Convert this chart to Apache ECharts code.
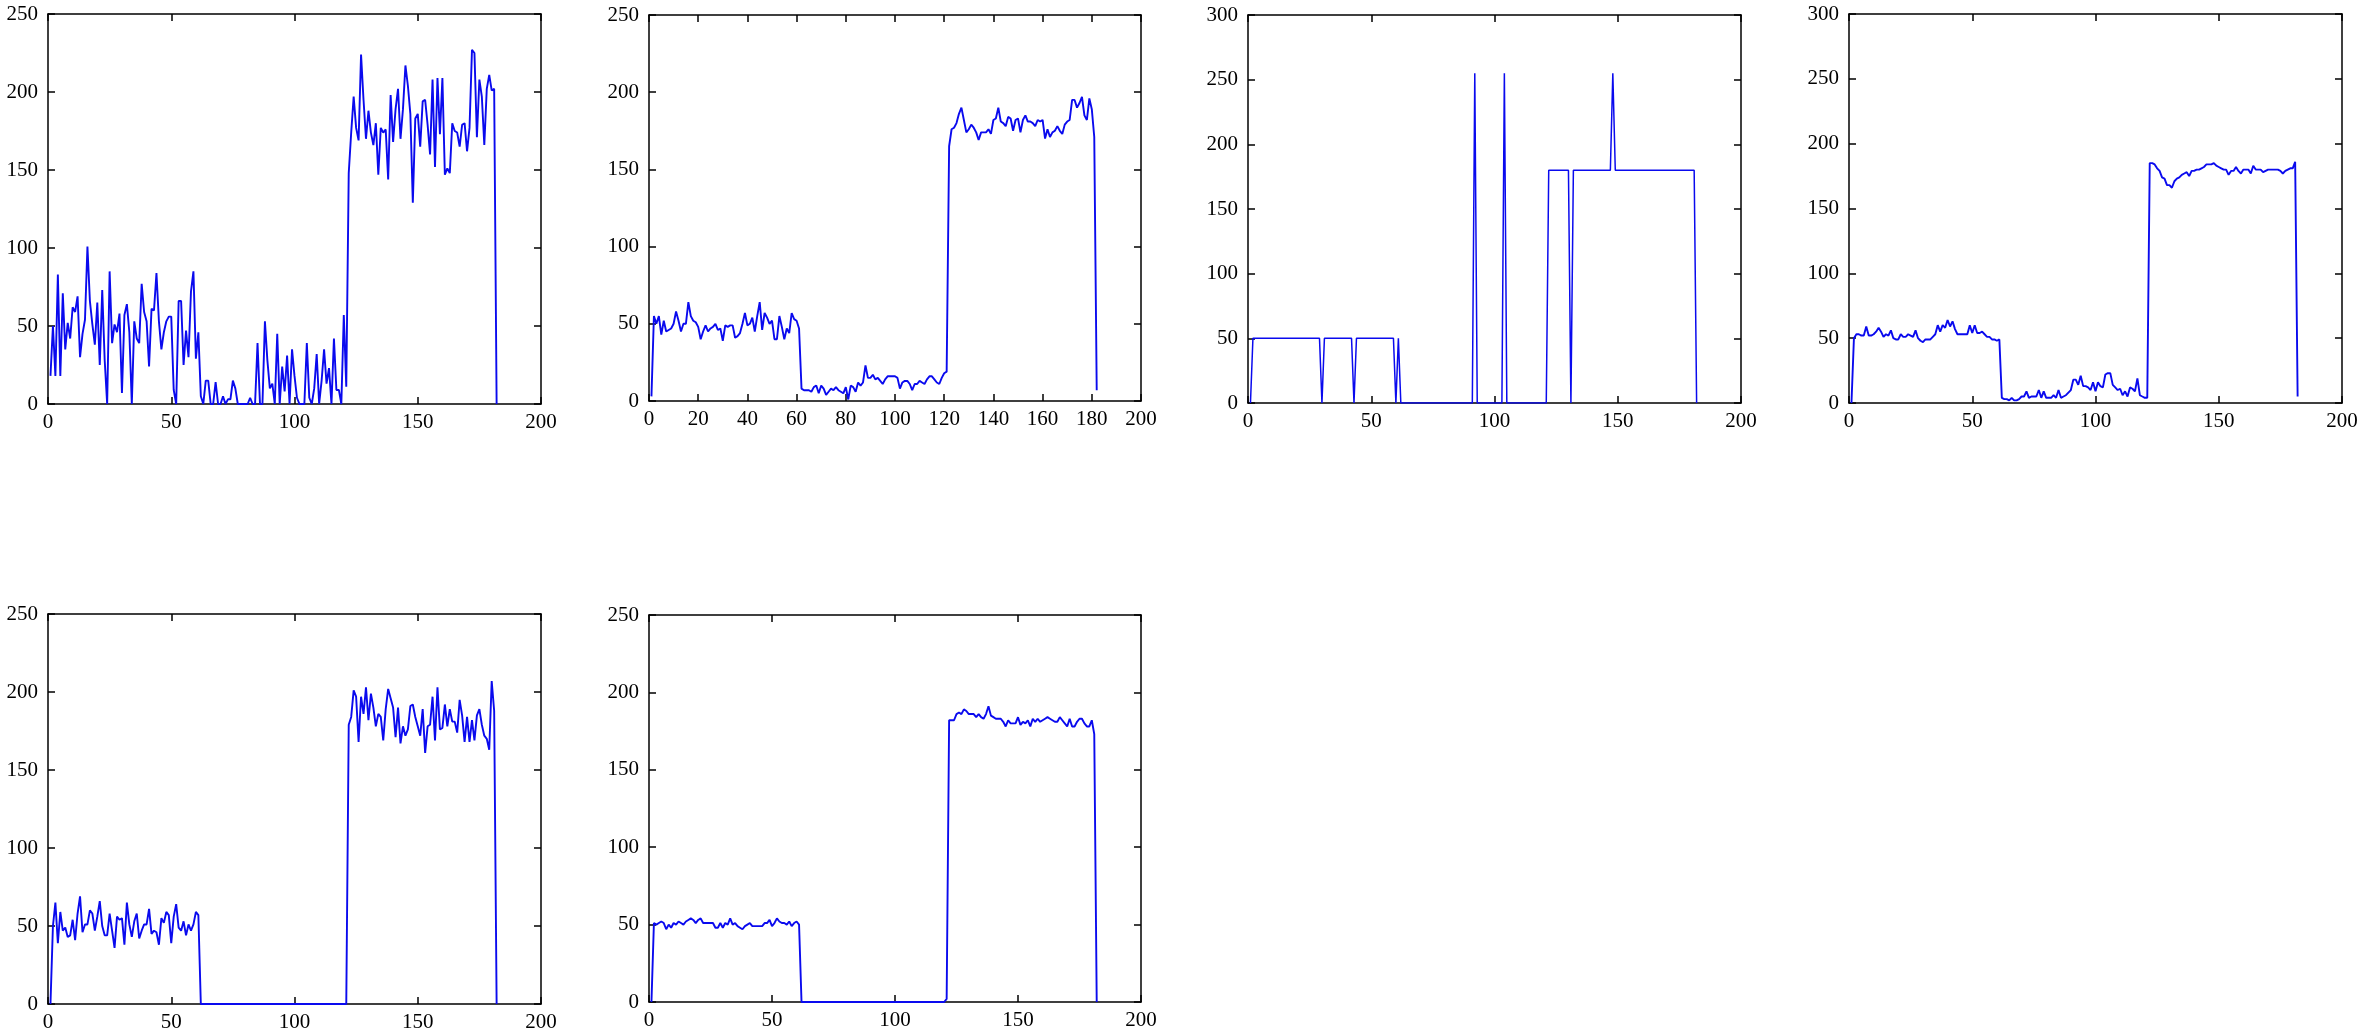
<!DOCTYPE html>
<html><head><meta charset="utf-8">
<script src="https://cdn.jsdelivr.net/npm/echarts/dist/echarts.min.js"></script>
<style>html,body{margin:0;padding:0;background:#fff}#c{width:2363px;height:1034px}</style>
</head><body><div id="c"></div>
<script>
// Sample index (x) runs 1..182 in every panel
const sampleCount = 182;

const p1 = [18,50,18,83,18,71,35,52,42,62,
59,69,30,45,54,101,66,51,38,65,
25,73,28,0,85,39,51,46,58,7,
57,64,46,0,53,42,39,77,59,53,
24,61,60,84,53,35,46,53,56,56,
9,0,66,66,25,47,30,72,85,29,
46,5,0,15,15,0,0,14,0,0,
5,0,3,3,15,10,0,0,0,0,
0,4,0,0,39,0,0,53,28,10,
13,0,45,0,24,8,31,0,35,18,
4,0,0,0,39,4,0,10,32,0,
15,35,13,23,0,42,9,9,0,57,
11,148,174,197,177,169,224,195,170,188,
174,166,180,147,177,174,176,144,198,168,
189,202,170,189,217,204,186,129,183,186,
165,194,195,179,160,208,152,209,173,209,
147,151,148,180,175,174,165,179,180,162,
177,227,225,171,208,197,166,202,211,201,
202,0];

const p2 = [3,55,50,55,43,52,45,46,47,50,
58,52,45,50,50,64,55,52,51,48,
40,45,49,45,47,48,50,46,47,39,
49,48,49,49,41,42,44,50,57,49,
50,54,45,55,64,46,57,54,50,52,
40,40,55,48,40,47,44,57,53,52,
47,8,7,7,7,6,9,10,5,10,
8,4,6,8,7,9,7,6,5,9,
1,10,9,6,12,10,12,23,15,15,
17,14,15,13,11,14,16,16,16,16,
15,8,12,13,13,11,7,11,11,13,
12,11,14,16,16,14,12,11,15,18,
19,165,176,177,180,186,190,182,174,176,
179,177,174,169,174,174,174,176,173,182,
183,190,181,180,178,184,183,175,182,183,
174,182,185,181,181,180,178,182,181,182,
170,176,171,174,175,178,175,173,179,181,
182,195,195,190,193,197,185,182,196,189,
171,7];

const p3 = [0,50,50,50,50,50,50,50,50,50,
50,50,50,50,50,50,50,50,50,50,
50,50,50,50,50,50,50,50,50,0,
50,50,50,50,50,50,50,50,50,50,
50,50,0,50,50,50,50,50,50,50,
50,50,50,50,50,50,50,50,50,0,
50,0,0,0,0,0,0,0,0,0,
0,0,0,0,0,0,0,0,0,0,
0,0,0,0,0,0,0,0,0,0,
0,255,0,0,0,0,0,0,0,0,
0,0,0,255,0,0,0,0,0,0,
0,0,0,0,0,0,0,0,0,0,
0,180,180,180,180,180,180,180,180,180,
0,180,180,180,180,180,180,180,180,180,
180,180,180,180,180,180,180,255,180,180,
180,180,180,180,180,180,180,180,180,180,
180,180,180,180,180,180,180,180,180,180,
180,180,180,180,180,180,180,180,180,180,
180,0];

const p4 = [0,50,53,53,52,52,59,52,52,53,
55,58,55,51,53,52,56,50,49,49,
53,51,51,53,52,51,56,50,48,47,
49,49,49,51,53,60,55,60,58,64,
59,63,57,53,53,53,53,53,60,54,
60,54,54,55,53,51,51,49,49,48,
49,4,3,3,2,4,2,2,3,5,
5,9,4,5,5,5,10,4,9,4,
4,4,6,4,10,4,5,6,8,10,
18,18,14,21,13,13,12,10,16,9,
16,13,12,22,23,23,14,12,10,11,
6,9,5,12,11,9,19,6,5,4,
4,185,185,184,181,179,174,173,168,168,
166,171,173,174,176,177,178,175,179,179,
180,180,181,182,184,184,184,185,183,182,
181,180,180,176,179,179,182,179,177,180,
180,180,177,183,180,180,180,178,179,180,
180,180,180,180,179,177,179,180,181,181,
186,5];

const p5 = [0,50,65,39,59,47,49,43,44,54,
41,58,69,46,51,51,60,58,47,56,
66,50,44,44,58,47,36,56,54,55,
38,65,51,43,53,58,42,47,51,51,
61,45,47,46,38,55,52,59,57,39,
56,64,49,47,53,44,51,47,51,59,
57,0,0,0,0,0,0,0,0,0,
0,0,0,0,0,0,0,0,0,0,
0,0,0,0,0,0,0,0,0,0,
0,0,0,0,0,0,0,0,0,0,
0,0,0,0,0,0,0,0,0,0,
0,0,0,0,0,0,0,0,0,0,
0,179,184,201,197,168,197,186,203,182,
199,190,178,186,184,169,189,202,196,190,
171,190,167,178,172,176,191,192,184,178,
172,189,161,178,179,197,169,203,176,177,
192,178,189,181,181,174,195,185,168,184,
168,182,169,185,189,179,172,170,163,207,
188,0];

const p6 = [0,51,50,51,52,51,47,50,48,51,
50,52,51,50,52,53,54,53,51,53,
54,51,51,51,51,51,48,48,51,48,
51,50,54,50,51,49,48,47,49,50,
51,49,49,49,49,49,51,51,53,49,
51,54,52,51,51,50,52,49,51,52,
50,0,0,0,0,0,0,0,0,0,
0,0,0,0,0,0,0,0,0,0,
0,0,0,0,0,0,0,0,0,0,
0,0,0,0,0,0,0,0,0,0,
0,0,0,0,0,0,0,0,0,0,
0,0,0,0,0,0,0,0,0,0,
2,182,182,182,186,187,186,189,188,186,
186,186,184,186,184,183,186,191,185,184,
183,183,183,181,178,182,180,180,180,184,
179,181,180,182,178,183,181,183,181,182,
183,184,183,182,181,181,184,182,180,178,
183,178,178,181,183,183,180,178,178,182,
173,0];

const seriesList = [p1, p2, p3, p4, p5, p6];
// axis ranges / tick steps per panel
const xMax = [200, 200, 200, 200, 200, 200];
const xStep = [50, 20, 50, 50, 50, 50];
const yMax = [250, 250, 300, 300, 250, 250];
const yStep = [50, 50, 50, 50, 50, 50];

// layout (pixels)
const gridBoxes = [
  {left: 48,   top: 14,  width: 493, height: 390},
  {left: 649,  top: 15,  width: 492, height: 386},
  {left: 1248, top: 15,  width: 493, height: 388},
  {left: 1849, top: 14,  width: 493, height: 389},
  {left: 48,   top: 614, width: 493, height: 390},
  {left: 649,  top: 615, width: 492, height: 387}
];
const lineWidths = [1.9, 1.9, 1.5, 1.9, 1.9, 1.9];

const FONT = 'Liberation Serif';
const axisLine = {show: true, onZero: false, lineStyle: {color: '#000', width: 1.5}};
const tick = {show: true, inside: true, length: 7, lineStyle: {color: '#000', width: 1.5}};

const grid = [], xAxis = [], yAxis = [], series = [];
seriesList.forEach((vals, i) => {
  grid.push(Object.assign({containLabel: false}, gridBoxes[i]));
  const xb = {type: 'value', gridIndex: i, min: 0, max: xMax[i], interval: xStep[i],
    axisLine, axisTick: tick, splitLine: {show: false}};
  xAxis.push(Object.assign({}, xb, {position: 'bottom',
    axisLabel: {show: true, color: '#000', fontFamily: FONT, fontSize: 21, margin: 8}}));
  xAxis.push(Object.assign({}, xb, {position: 'top', axisLabel: {show: false}}));
  const yb = {type: 'value', gridIndex: i, min: 0, max: yMax[i], interval: yStep[i],
    axisLine, axisTick: tick, splitLine: {show: false}};
  yAxis.push(Object.assign({}, yb, {position: 'left',
    axisLabel: {show: true, color: '#000', fontFamily: FONT, fontSize: 21, margin: 10}}));
  yAxis.push(Object.assign({}, yb, {position: 'right', axisLabel: {show: false}}));
  const data = vals.map((v, k) => [k + 1, v]);
  series.push({type: 'line', xAxisIndex: 2 * i, yAxisIndex: 2 * i, data,
    symbol: 'none', showSymbol: false, animation: false, silent: true,
    lineStyle: {color: '#0a0aee', width: lineWidths[i]}});
});

const chart = echarts.init(document.getElementById('c'), null, {renderer: 'canvas'});
chart.setOption({backgroundColor: '#fff', animation: false, grid, xAxis, yAxis, series});
</script>
</body></html>
